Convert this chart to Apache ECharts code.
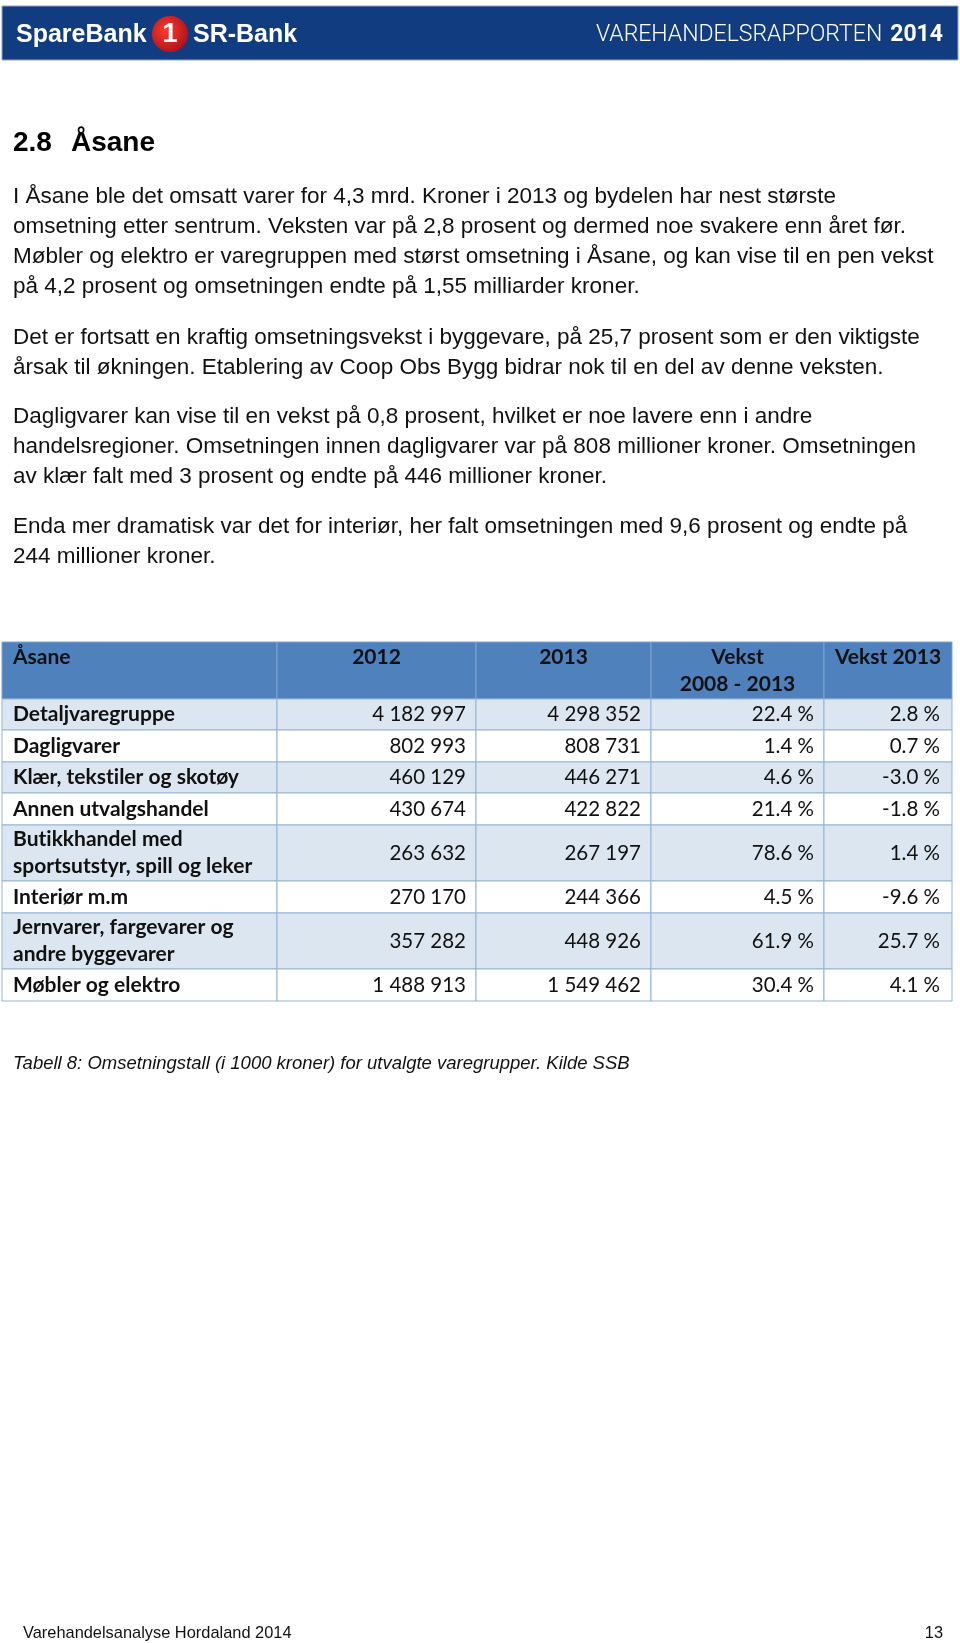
<!DOCTYPE html>
<html>
<head>
<meta charset="utf-8">
<title>2.8 Åsane</title>
<script src="https://cdn.jsdelivr.net/npm/echarts@6/dist/echarts.min.js"></script>
<style>
  html, body { margin: 0; padding: 0; background: #fff; }
  #main { width: 960px; height: 1643px; }
</style>
</head>
<body>
<div id="main"></div>
<script>
// ---------- DATA ----------
const tableTitle = 'Åsane';
const columnHeaders = ['2012', '2013', 'Vekst\n2008 - 2013', 'Vekst 2013'];
const categories = [
  'Detaljvaregruppe',
  'Dagligvarer',
  'Klær, tekstiler og skotøy',
  'Annen utvalgshandel',
  'Butikkhandel med\nsportsutstyr, spill og leker',
  'Interiør m.m',
  'Jernvarer, fargevarer og\nandre byggevarer',
  'Møbler og elektro'
];
const sales2012 = [4182997, 802993, 460129, 430674, 263632, 270170, 357282, 1488913];
const sales2013 = [4298352, 808731, 446271, 422822, 267197, 244366, 448926, 1549462];
const growth2008to2013 = [22.4, 1.4, 4.6, 21.4, 78.6, 4.5, 61.9, 30.4];
const growth2013 = [2.8, 0.7, -3.0, -1.8, 1.4, -9.6, 25.7, 4.1];

const sectionNumber = '2.8';
const sectionName = 'Åsane';
const paragraphs = [
  ['I Åsane ble det omsatt varer for 4,3 mrd. Kroner i 2013 og bydelen har nest største',
   'omsetning etter sentrum. Veksten var på 2,8 prosent og dermed noe svakere enn året før.',
   'Møbler og elektro er varegruppen med størst omsetning i Åsane, og kan vise til en pen vekst',
   'på 4,2 prosent og omsetningen endte på 1,55 milliarder kroner.'],
  ['Det er fortsatt en kraftig omsetningsvekst i byggevare, på 25,7 prosent som er den viktigste',
   'årsak til økningen. Etablering av Coop Obs Bygg bidrar nok til en del av denne veksten.'],
  ['Dagligvarer kan vise til en vekst på 0,8 prosent, hvilket er noe lavere enn i andre',
   'handelsregioner. Omsetningen innen dagligvarer var på 808 millioner kroner. Omsetningen',
   'av klær falt med 3 prosent og endte på 446 millioner kroner.'],
  ['Enda mer dramatisk var det for interiør, her falt omsetningen med 9,6 prosent og endte på',
   '244 millioner kroner.']
];
const caption = 'Tabell 8: Omsetningstall (i 1000 kroner) for utvalgte varegrupper. Kilde SSB';
const footerLeft = 'Varehandelsanalyse Hordaland 2014';
const footerRight = '13';

// ---------- LAYOUT (axis units = px inside the table grid) ----------
const TABLE_LEFT = 2, TABLE_TOP = 642, TABLE_W = 950, TABLE_H = 359;
const colEdges = [0, 275, 474, 649, 822, 950];
const rowEdges = [0, 57, 88, 120, 151, 183, 239, 271, 327, 359];

const fmtInt = n => String(n).replace(/\B(?=(\d{3})+(?!\d))/g, ' ');
const fmtPct = v => v.toFixed(1) + ' %';
// avoid the "ti" ligature of the substitute font
const noLig = s => s.replace(/ti/g, 't\u200Ci');

function cellText(c, r) {
  if (r === 0) return c === 0 ? tableTitle : columnHeaders[c - 1];
  const i = r - 1;
  switch (c) {
    case 0: return noLig(categories[i]);
    case 1: return fmtInt(sales2012[i]);
    case 2: return fmtInt(sales2013[i]);
    case 3: return fmtPct(growth2008to2013[i]);
    default: return fmtPct(growth2013[i]);
  }
}

const cellData = [];
for (let r = 0; r <= categories.length; r++) {
  for (let c = 0; c < 5; c++) cellData.push([c, r]);
}

const TFONT = 'Lato, "Open Sans", sans-serif';

function renderCell(params, api) {
  const c = api.value(0), r = api.value(1);
  const p0 = api.coord([colEdges[c], rowEdges[r]]);
  const p1 = api.coord([colEdges[c + 1], rowEdges[r + 1]]);
  const x0 = p0[0], y0 = p0[1], w = p1[0] - p0[0], h = p1[1] - p0[1];
  const header = r === 0;
  const fill = header ? '#4F81BD' : (r % 2 === 1 ? '#DCE6F1' : '#FFFFFF');
  const stroke = header ? '#7FA3CF' : '#95B3D7';
  const txt = cellText(c, r);
  const bold = header || c === 0;
  let tx, ty, align, vAlign = 'middle';
  if (header) {
    vAlign = 'top';
    ty = y0 + 2;
    if (c === 0) { tx = x0 + 11; align = 'left'; }
    else { tx = x0 + w / 2; align = 'center'; }
  } else {
    ty = y0 + h / 2;
    if (c === 0) { tx = x0 + 11; align = 'left'; }
    else { tx = x0 + w - (c === 4 ? 12 : 10); align = 'right'; }
  }
  return {
    type: 'group',
    children: [
      { type: 'rect', shape: { x: x0, y: y0, width: w, height: h },
        style: { fill: fill, stroke: stroke, lineWidth: 1 } },
      { type: 'text', style: {
          text: txt, x: tx, y: ty, align: align, verticalAlign: vAlign,
          fontFamily: TFONT, fontSize: bold ? 21 : 20.5,
          fontWeight: bold ? 'bold' : 'normal',
          lineHeight: 27, fill: '#111'
        } }
    ]
  };
}

// ---------- TEXT GRAPHICS ----------
const BODY_FONT = '"Liberation Sans", Arial, sans-serif';
const graphics = [];
// top banner
graphics.push({ type: 'rect', shape: { x: 2, y: 6, width: 956, height: 54 },
  style: { fill: '#123C80', stroke: '#8fa3c4', lineWidth: 1 } });
graphics.push({ type: 'text', style: { text: 'SpareBank', x: 16, y: 35, verticalAlign: 'middle',
  fontFamily: BODY_FONT, fontWeight: 'bold', fontSize: 25, fill: '#fff' } });
graphics.push({ type: 'circle', shape: { cx: 170, cy: 34, r: 18 },
  style: { fill: { type: 'radial', x: 0.4, y: 0.4, r: 0.7,
    colorStops: [{ offset: 0, color: '#ff3b2f' }, { offset: 1, color: '#a80f18' }] } } });
graphics.push({ type: 'text', style: { text: '1', x: 170, y: 35, align: 'center', verticalAlign: 'middle',
  fontFamily: BODY_FONT, fontWeight: 'bold', fontSize: 27, fill: '#fff' } });
graphics.push({ type: 'text', style: { text: 'SR-Bank', x: 193, y: 35, verticalAlign: 'middle',
  fontFamily: BODY_FONT, fontWeight: 'bold', fontSize: 25, fill: '#fff' } });
graphics.push({ type: 'text', style: {
  text: '{l|VAREHANDELSRAPPORTEN}{s| }{b|2014}', x: 943, y: 35, align: 'right', verticalAlign: 'middle',
  rich: {
    l: { fontFamily: 'Roboto, sans-serif', fontWeight: 300, fontSize: 23, fill: '#fff', color: '#fff' },
    s: { fontFamily: 'Roboto, sans-serif', fontSize: 23, width: 8, fill: '#fff', color: '#fff' },
    b: { fontFamily: 'Roboto, sans-serif', fontWeight: 'bold', fontSize: 23, fill: '#fff', color: '#fff' }
  } } });
// section title
graphics.push({ type: 'text', style: { text: sectionNumber, x: 13, y: 143, verticalAlign: 'middle',
  fontFamily: BODY_FONT, fontWeight: 'bold', fontSize: 28, fill: '#000' } });
graphics.push({ type: 'text', style: { text: sectionName, x: 71, y: 143, verticalAlign: 'middle',
  fontFamily: BODY_FONT, fontWeight: 'bold', fontSize: 28, fill: '#000' } });
// paragraphs
const paraStarts = [197, 337.5, 417, 527];
const LINE = 29.8;
paragraphs.forEach((lines, pi) => {
  lines.forEach((ln, li) => {
    graphics.push({ type: 'text', style: { text: ln, x: 13, y: paraStarts[pi] + li * LINE,
      verticalAlign: 'middle', fontFamily: BODY_FONT, fontSize: 22.5, fill: '#111' } });
  });
});
// caption
graphics.push({ type: 'text', style: { text: caption, x: 13, y: 1064, verticalAlign: 'middle',
  fontFamily: BODY_FONT, fontStyle: 'italic', fontSize: 18.5, fill: '#111' } });
// footer
graphics.push({ type: 'text', style: { text: footerLeft, x: 23, y: 1633, verticalAlign: 'middle',
  fontFamily: BODY_FONT, fontSize: 16.4, fill: '#111' } });
graphics.push({ type: 'text', style: { text: footerRight, x: 943, y: 1633, align: 'right', verticalAlign: 'middle',
  fontFamily: BODY_FONT, fontSize: 16.4, fill: '#111' } });

const chart = echarts.init(document.getElementById('main'), null, { renderer: 'canvas' });
chart.setOption({
  animation: false,
  backgroundColor: '#ffffff',
  grid: { left: TABLE_LEFT, top: TABLE_TOP, width: TABLE_W, height: TABLE_H, containLabel: false },
  xAxis: { type: 'value', min: 0, max: TABLE_W, show: false },
  yAxis: { type: 'value', min: 0, max: TABLE_H, inverse: true, show: false },
  graphic: graphics,
  series: [{
    type: 'custom',
    renderItem: renderCell,
    data: cellData,
    clip: false,
    silent: true
  }]
});
</script>
</body>
</html>
